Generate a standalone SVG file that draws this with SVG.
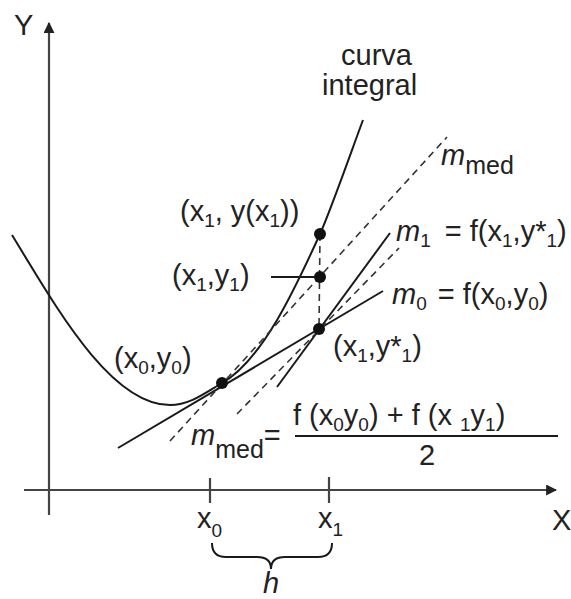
<svg xmlns="http://www.w3.org/2000/svg" width="571" height="599" viewBox="0 0 571 599">
<defs>
<style>
.t{font-family:"Liberation Sans",Arial,sans-serif;font-size:29px;fill:#222}
.i{font-style:italic}
.s{font-size:19px}
.ax{stroke:#444;stroke-width:2.2;fill:none}
.ln{stroke:#1a1a1a;stroke-width:2;fill:none}
.ds{stroke:#333;stroke-width:1.6;fill:none;stroke-dasharray:7 5}
.dot{fill:#111}
</style>
<marker id="ah" viewBox="0 0 10 10" refX="9" refY="5" markerWidth="5" markerHeight="5" orient="auto" markerUnits="strokeWidth">
<path d="M0,0 L10,5 L0,10 z" fill="#222"/>
</marker>
</defs>
<rect width="571" height="599" fill="#fff"/>
<g id="axes">
<line class="ax" x1="49" y1="515" x2="49" y2="23" marker-end="url(#ah)"/>
<line class="ax" x1="24" y1="490" x2="556" y2="490" marker-end="url(#ah)"/>
<line class="ax" x1="210" y1="478" x2="210" y2="503"/>
<line class="ax" x1="329" y1="477" x2="329" y2="503"/>
<text class="t" x="14" y="35">Y</text>
<text class="t" x="552" y="530">X</text>
<text class="t" x="197" y="528">x<tspan class="s" dy="9">0</tspan></text>
<text class="t" x="318" y="528">x<tspan class="s" dy="8">1</tspan></text>
<path class="ln" stroke-width="1.6" d="M212,543 Q212,557 226,557 L257,557 Q271,557 271,569 Q271,557 285,557 L318,557 Q332,557 332,543"/>
<text class="t i" x="263" y="593">h</text>
</g>
<g id="connectors">
<path class="ln" d="M12,235 C55,305 110,405 170,405 C190,405 205,393 222,383 C262,360.5 295,289 320,234 C330,212 350,155 363,120"/>
<line class="ln" x1="118" y1="448" x2="383" y2="291"/>
<line class="ln" x1="277" y1="387" x2="390" y2="233"/>
<line class="ds" x1="170" y1="441" x2="447" y2="137"/>
<line class="ds" x1="237" y1="414" x2="399" y2="248"/>
<line class="ds" x1="320" y1="234" x2="319" y2="329"/>
<line class="ln" stroke-width="1.6" x1="271" y1="277" x2="320" y2="277"/>
<line class="ln" stroke-width="1.6" x1="295" y1="436" x2="558" y2="436"/>
</g>
<g id="points">
<circle class="dot" cx="222" cy="383" r="6"/>
<circle class="dot" cx="320" cy="234" r="6"/>
<circle class="dot" cx="320" cy="277" r="6"/>
<circle class="dot" cx="319" cy="329" r="6"/>
</g>
<g id="labels">
<text class="t" x="341" y="65">curva</text>
<text class="t" x="322" y="95">integral</text>
<text class="t" x="180" y="221">(x<tspan class="s" dy="6">1</tspan><tspan dy="-6">, y(x</tspan><tspan class="s" dy="6">1</tspan><tspan dy="-6">))</tspan></text>
<text class="t" x="172" y="285">(x<tspan class="s" dy="6">1</tspan><tspan dy="-6">,y</tspan><tspan class="s" dy="6">1</tspan><tspan dy="-6">)</tspan></text>
<text class="t" x="114" y="368">(x<tspan class="s" dy="6">0</tspan><tspan dy="-6">,y</tspan><tspan class="s" dy="6">0</tspan><tspan dy="-6">)</tspan></text>
<text class="t" x="333" y="356">(x<tspan class="s" dy="6">1</tspan><tspan dy="-6">,y*</tspan><tspan class="s" dy="6">1</tspan><tspan dy="-6">)</tspan></text>
<text class="t" x="441" y="165"><tspan class="i">m</tspan><tspan dy="9" font-size="25">med</tspan></text>
<text class="t" x="396" y="241"><tspan class="i">m</tspan><tspan class="s" dy="6">1</tspan><tspan dy="-6" dx="6"> = f(x</tspan><tspan class="s" dy="6">1</tspan><tspan dy="-6">,y*</tspan><tspan class="s" dy="6">1</tspan><tspan dy="-6">)</tspan></text>
<text class="t" x="392" y="304"><tspan class="i">m</tspan><tspan class="s" dy="6">0</tspan><tspan dy="-6" dx="3"> = f(x</tspan><tspan class="s" dy="6">0</tspan><tspan dy="-6">,y</tspan><tspan class="s" dy="6">0</tspan><tspan dy="-6">)</tspan></text>
<text class="t" x="191" y="445"><tspan class="i">m</tspan><tspan dy="13" font-size="25">med</tspan><tspan dy="-13">=</tspan></text>
<text class="t" x="293" y="425">f (x<tspan class="s" dy="6">0</tspan><tspan dy="-6">y</tspan><tspan class="s" dy="6">0</tspan><tspan dy="-6">) + f (x </tspan><tspan class="s" dy="6">1</tspan><tspan dy="-6">y</tspan><tspan class="s" dy="6">1</tspan><tspan dy="-6">)</tspan></text>
<text class="t" x="419" y="465">2</text>
</g>
</svg>
